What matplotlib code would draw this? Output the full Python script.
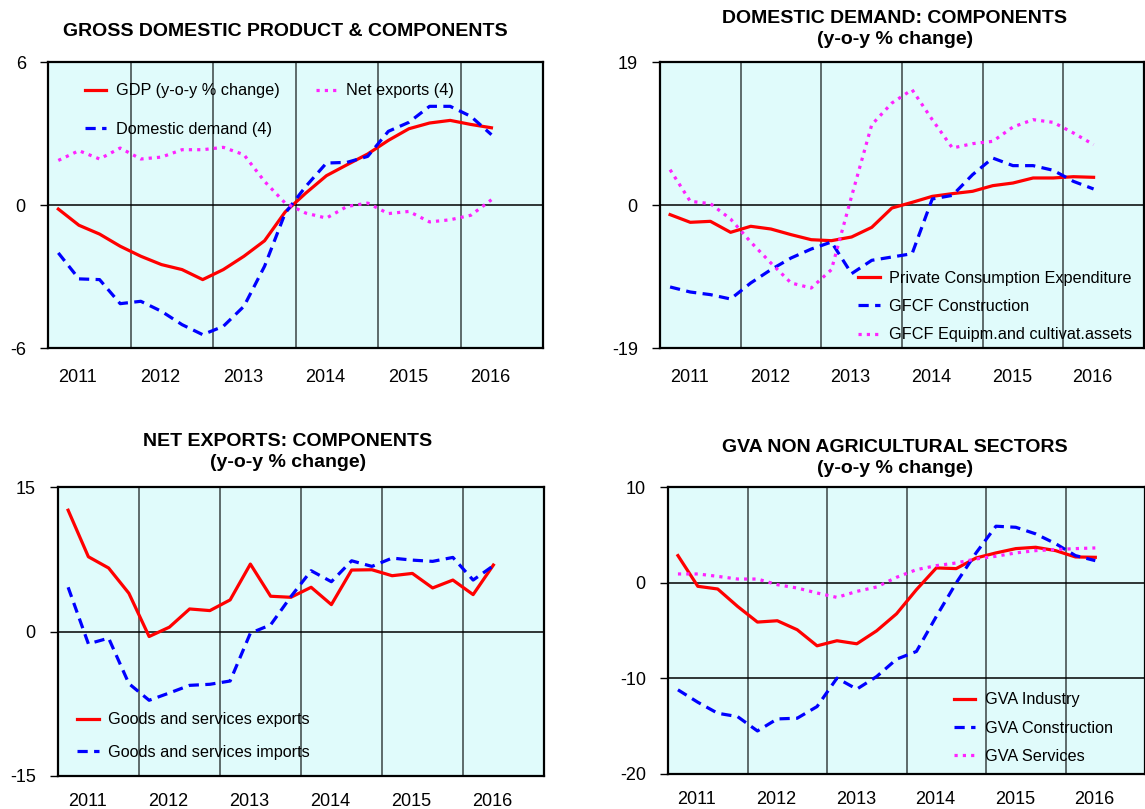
import numpy as np
import matplotlib
matplotlib.use("Agg")
import matplotlib.pyplot as plt

plt.rcParams['font.family'] = ['Liberation Sans', 'DejaVu Sans']

# Quarterly data, 2011Q1 .. 2016Q2
years = ['2011', '2012', '2013', '2014', '2015', '2016']

# GDP & components
gdp = [-0.17, -0.85, -1.22, -1.73, -2.15, -2.5, -2.71, -3.13, -2.71, -2.15, -1.5,
       -0.29, 0.5, 1.23, 1.69, 2.14, 2.71, 3.2, 3.44, 3.55, 3.38, 3.24]
dom_demand = [-2.01, -3.1, -3.13, -4.14, -4.04, -4.46, -5.02, -5.44, -5.09, -4.25, -2.57,
              -0.34, 0.78, 1.76, 1.79, 2.04, 3.09, 3.47, 4.14, 4.14, 3.72, 2.95]
net_exports = [1.87, 2.28, 1.93, 2.39, 1.93, 2.01, 2.32, 2.32, 2.42, 2.11, 0.99,
               0.08, -0.34, -0.55, -0.06, 0.08, -0.36, -0.27, -0.71, -0.62, -0.43, 0.22]

# Domestic demand components
private_cons = [-1.28, -2.3, -2.17, -3.63, -2.83, -3.19, -3.94, -4.61, -4.74, -4.25, -2.97,
                -0.4, 0.35, 1.15, 1.51, 1.82, 2.57, 2.92, 3.59, 3.59, 3.76, 3.68]
gfcf_constr = [-10.89, -11.56, -11.91, -12.49, -10.36, -8.59, -7.04, -5.85, -4.92, -9.12, -7.35,
               -6.91, -6.47, 0.8, 1.28, 4.03, 6.24, 5.23, 5.23, 4.61, 3.14, 2.13]
gfcf_equip = [4.69, 0.49, 0.18, -1.86, -4.92, -7.71, -10.36, -11.03, -8.59, 1.15, 10.67,
              13.55, 15.32, 11.34, 7.57, 8.15, 8.46, 10.36, 11.34, 10.98, 9.57, 8.02]

# Net exports components
exports = [12.59, 7.76, 6.59, 3.97, -0.52, 0.45, 2.34, 2.17, 3.28, 7.0, 3.66,
           3.55, 4.59, 2.79, 6.38, 6.41, 5.79, 6.03, 4.52, 5.34, 3.83, 6.9]
imports = [4.59, -1.28, -0.69, -5.41, -7.14, -6.38, -5.59, -5.48, -5.14, -0.17, 0.69,
           3.62, 6.31, 5.17, 7.34, 6.76, 7.62, 7.41, 7.28, 7.69, 5.34, 6.83]

# GVA non agricultural sectors
gva_industry = [2.83, -0.38, -0.66, -2.48, -4.12, -3.98, -4.92, -6.6, -6.07, -6.39, -5.03,
                -3.25, -0.73, 1.54, 1.47, 2.58, 3.11, 3.56, 3.7, 3.35, 2.69, 2.65]
gva_constr = [-11.2, -12.5, -13.65, -14.0, -15.5, -14.24, -14.17, -12.95, -9.98, -11.13, -9.81,
              -8.0, -7.19, -3.53, -0.03, 3.11, 5.9, 5.79, 5.1, 4.08, 2.83, 2.3]
gva_services = [0.91, 0.91, 0.66, 0.38, 0.38, -0.21, -0.56, -1.08, -1.54, -0.91, -0.45,
                0.56, 1.36, 1.78, 2.06, 2.48, 2.76, 3.11, 3.35, 3.46, 3.56, 3.63]

W, H = 1145, 809
fig = plt.figure(figsize=(W / 100, H / 100), dpi=100)

BG = '#e0fbfb'
RED = dict(color='#ff0000', lw=2.3, linestyle='-')
BLUE = dict(color='#0000ff', lw=2.3, linestyle=(0, (3.2, 2)))
MAG = dict(color='#ff22ff', lw=2.3, linestyle=(0, (1, 1.6)))
LEG = dict(frameon=False, fontsize=11.7, handlelength=1.3, handletextpad=0.6,
           borderpad=0, borderaxespad=0)


def make_axes(px_left, px_top, px_right, px_bottom, ylim, yticks, hlines, xpad=14):
    ax = fig.add_axes([px_left / W, 1 - px_bottom / H,
                       (px_right - px_left) / W, (px_bottom - px_top) / H])
    ax.set_facecolor(BG)
    ax.set_xlim(-0.5, 23.5)
    ax.set_ylim(*ylim)
    for v in [3.5, 7.5, 11.5, 15.5, 19.5]:
        ax.axvline(v, color='#3a4444', lw=1.1, zorder=1)
    for h in hlines:
        ax.axhline(h, color='black', lw=1.1, zorder=1)
    ax.set_yticks(yticks)
    ax.set_yticklabels([str(t) for t in yticks])
    ax.set_xticks([4 * i + 0.95 for i in range(len(years))])
    ax.set_xticklabels(years)
    ax.tick_params(axis='y', length=6, width=1, direction='out', pad=10, labelsize=13)
    ax.tick_params(axis='x', length=0, pad=xpad, labelsize=13)
    for s in ax.spines.values():
        s.set_linewidth(1.6)
    return ax


x = np.arange(len(gdp))

# Top left
ax1 = make_axes(48, 62, 543, 348, (-6, 6), [-6, 0, 6], [0], xpad=15)
ax1.plot(x, gdp, label='GDP (y-o-y % change)', zorder=3, **RED)
ax1.plot(x, dom_demand, label='Domestic demand (4)', zorder=3, **BLUE)
ax1.plot(x, net_exports, label='Net exports (4)', zorder=3, **MAG)
ax1.legend(loc='upper left', bbox_to_anchor=(0.075, 0.925), ncol=2,
           labelspacing=1.45, columnspacing=2.2, **LEG)

# Top right
ax2 = make_axes(660, 62, 1144, 348, (-19, 19), [-19, 0, 19], [0], xpad=15)
ax2.plot(x, private_cons, label='Private Consumption Expenditure', zorder=3, **RED)
ax2.plot(x, gfcf_constr, label='GFCF Construction', zorder=3, **BLUE)
ax2.plot(x, gfcf_equip, label='GFCF Equipm.and cultivat.assets', zorder=3, **MAG)
ax2.legend(loc='lower left', bbox_to_anchor=(0.41, 0.02), labelspacing=0.82, **LEG)

# Bottom left
ax3 = make_axes(58, 487, 544, 776, (-15, 15), [-15, 0, 15], [0], xpad=12)
ax3.plot(x, exports, label='Goods and services exports', zorder=3, **RED)
ax3.plot(x, imports, label='Goods and services imports', zorder=3, **BLUE)
ax3.legend(loc='lower left', bbox_to_anchor=(0.04, 0.055), labelspacing=1.1, **LEG)

# Bottom right
ax4 = make_axes(668, 487, 1145, 774, (-20, 10), [-20, -10, 0, 10], [0, -10], xpad=12)
ax4.plot(x, gva_industry, label='GVA Industry', zorder=3, **RED)
ax4.plot(x, gva_constr, label='GVA Construction', zorder=3, **BLUE)
ax4.plot(x, gva_services, label='GVA Services', zorder=3, **MAG)
ax4.legend(loc='lower left', bbox_to_anchor=(0.6, 0.035), labelspacing=0.82, **LEG)

# Titles
tkw = dict(ha='center', va='center', fontsize=14, fontweight='bold', linespacing=1.3)
fig.text(285 / W, 1 - 31 / H, 'GROSS DOMESTIC PRODUCT & COMPONENTS', **tkw)
fig.text(895 / W, 1 - 29 / H, 'DOMESTIC DEMAND: COMPONENTS\n(y-o-y % change)', **tkw)
fig.text(288 / W, 1 - 452 / H, 'NET EXPORTS: COMPONENTS\n(y-o-y % change)', **tkw)
fig.text(895 / W, 1 - 458 / H, 'GVA NON AGRICULTURAL SECTORS\n(y-o-y % change)', **tkw)

fig.savefig('out.png', dpi=100)
